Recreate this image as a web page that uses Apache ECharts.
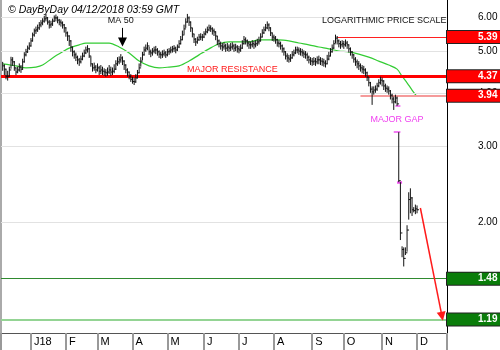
<!DOCTYPE html>
<html><head><meta charset="utf-8">
<script src="https://cdn.jsdelivr.net/npm/echarts@6/dist/echarts.min.js"></script>
<style>html,body{margin:0;padding:0;background:#fff}#c{width:500px;height:350px}</style>
</head><body><div id="c"></div>
<script>
var titleText = '\u00a9 DayByDay 04/12/2018 03:59 GMT';
var holidays = ['2017-12-25','2018-01-01','2018-01-15','2018-02-19','2018-03-30','2018-05-28','2018-07-04','2018-09-03','2018-11-22','2018-12-05','2018-12-25'];
var monthLabels = ['J18','F','M','A','M','J','J','A','S','O','N','D'];
var priceTicks = [6, 5, 4, 3, 2];

var close = [
4.62,4.54,4.37,4.37,4.52,4.77,4.72,4.57,4.47,4.52,
4.59,4.54,4.72,4.90,4.98,5.08,5.14,5.28,5.45,5.57,
5.60,5.66,5.75,5.81,5.87,5.94,5.97,5.84,5.75,5.78,
5.87,5.97,5.97,5.90,5.84,5.81,5.75,5.66,5.51,5.42,
5.28,5.11,4.98,4.90,4.84,4.77,4.72,4.79,4.87,4.95,
5.03,5.06,4.87,4.67,4.57,4.59,4.52,4.57,4.49,4.52,
4.49,4.47,4.45,4.47,4.52,4.47,4.49,4.54,4.67,4.72,
4.77,4.82,4.74,4.64,4.52,4.47,4.37,4.30,4.25,4.24,
4.33,4.45,4.57,4.74,4.90,5.03,5.08,5.14,4.98,4.95,
5.00,5.03,5.03,4.98,4.92,4.90,4.92,4.95,4.90,4.98,
5.00,5.03,5.06,5.08,5.03,5.11,5.20,5.31,5.45,5.63,
5.84,5.97,5.84,5.66,5.48,5.33,5.25,5.31,5.39,5.39,
5.39,5.48,5.54,5.60,5.66,5.63,5.57,5.54,5.42,5.28,
5.20,5.14,5.11,5.14,5.08,5.11,5.08,5.11,5.14,5.08,
5.11,5.06,5.03,5.08,5.20,5.31,5.28,5.22,5.17,5.17,
5.20,5.17,5.20,5.25,5.28,5.39,5.51,5.60,5.66,5.75,
5.66,5.51,5.39,5.36,5.31,5.22,5.20,5.14,5.06,4.98,
4.87,4.82,4.79,4.82,4.90,4.95,5.03,5.03,5.00,4.98,
4.95,4.92,4.90,4.84,4.77,4.74,4.72,4.74,4.72,4.77,
4.77,4.74,4.72,4.69,4.67,4.79,4.87,4.98,5.08,5.20,
5.36,5.28,5.20,5.17,5.20,5.17,5.22,5.17,5.06,4.98,
4.90,4.79,4.72,4.67,4.62,4.57,4.54,4.52,4.45,4.35,
4.22,4.08,4.02,4.06,4.08,4.15,4.22,4.28,4.26,4.15,
4.10,4.08,4.04,3.95,3.87,3.81,3.89,3.77,2.50,1.89,
1.73,1.65,1.70,1.92,2.26,2.28,2.14,2.13,2.15,2.14];
var high = [
4.72,4.66,4.55,4.50,4.60,4.85,4.84,4.74,4.58,4.60,
4.68,4.64,4.80,4.97,5.06,5.15,5.24,5.36,5.52,5.64,
5.70,5.76,5.84,5.90,5.96,6.04,6.10,6.00,5.90,5.88,
5.95,6.05,6.08,6.02,5.94,5.92,5.86,5.78,5.68,5.55,
5.44,5.30,5.12,5.02,4.96,4.88,4.82,4.88,4.96,5.04,
5.12,5.16,5.08,4.86,4.68,4.70,4.64,4.68,4.62,4.64,
4.60,4.56,4.54,4.58,4.64,4.60,4.58,4.66,4.76,4.84,
4.86,4.92,4.86,4.76,4.66,4.56,4.48,4.42,4.36,4.34,
4.42,4.52,4.68,4.84,4.98,5.12,5.18,5.24,5.12,5.04,
5.08,5.12,5.14,5.08,5.02,4.98,5.02,5.04,5.00,5.06,
5.08,5.12,5.14,5.16,5.12,5.18,5.30,5.42,5.58,5.76,
5.96,6.10,6.02,5.86,5.66,5.48,5.36,5.40,5.48,5.50,
5.48,5.56,5.64,5.70,5.76,5.74,5.68,5.64,5.56,5.42,
5.32,5.26,5.22,5.24,5.20,5.22,5.18,5.22,5.24,5.20,
5.20,5.16,5.14,5.18,5.30,5.42,5.38,5.32,5.28,5.26,
5.30,5.28,5.30,5.34,5.40,5.50,5.62,5.70,5.78,5.86,
5.80,5.68,5.52,5.46,5.42,5.34,5.30,5.26,5.18,5.10,
5.00,4.94,4.90,4.92,5.00,5.04,5.12,5.12,5.10,5.08,
5.06,5.02,5.00,4.96,4.88,4.84,4.82,4.84,4.82,4.86,
4.88,4.84,4.82,4.80,4.76,4.90,4.98,5.08,5.18,5.30,
5.46,5.42,5.32,5.28,5.30,5.28,5.32,5.28,5.18,5.10,
5.00,4.92,4.84,4.78,4.74,4.68,4.64,4.62,4.56,4.48,
4.36,4.24,4.14,4.14,4.16,4.22,4.30,4.36,4.34,4.28,
4.20,4.16,4.14,4.06,3.98,3.92,3.96,3.92,3.24,2.48,
1.76,1.75,1.75,1.97,2.35,2.40,2.29,2.17,2.20,2.19];
var low = [
4.50,4.40,4.30,4.27,4.36,4.55,4.62,4.50,4.40,4.44,
4.48,4.45,4.52,4.70,4.86,4.95,5.03,5.12,5.26,5.40,
5.48,5.54,5.60,5.68,5.74,5.82,5.86,5.76,5.64,5.66,
5.72,5.84,5.86,5.80,5.74,5.70,5.64,5.52,5.40,5.28,
5.14,4.98,4.86,4.80,4.74,4.66,4.62,4.68,4.76,4.84,
4.92,4.96,4.82,4.60,4.48,4.50,4.44,4.48,4.40,4.42,
4.40,4.38,4.36,4.38,4.42,4.38,4.40,4.44,4.52,4.62,
4.66,4.70,4.64,4.52,4.44,4.36,4.30,4.24,4.20,4.17,
4.22,4.32,4.44,4.60,4.76,4.88,4.98,5.02,4.90,4.84,
4.88,4.94,4.92,4.88,4.82,4.80,4.82,4.86,4.82,4.86,
4.90,4.94,4.96,4.98,4.94,5.00,5.08,5.18,5.30,5.46,
5.66,5.82,5.72,5.54,5.38,5.22,5.14,5.20,5.28,5.30,
5.28,5.36,5.44,5.50,5.56,5.54,5.46,5.42,5.30,5.16,
5.10,5.04,5.00,5.04,4.98,5.00,4.98,5.00,5.04,4.98,
5.00,4.96,4.94,4.98,5.06,5.18,5.18,5.12,5.06,5.06,
5.10,5.06,5.10,5.14,5.18,5.26,5.38,5.48,5.56,5.62,
5.56,5.42,5.28,5.26,5.20,5.12,5.10,5.04,4.96,4.88,
4.78,4.72,4.70,4.72,4.80,4.86,4.92,4.94,4.90,4.88,
4.86,4.82,4.80,4.74,4.68,4.64,4.62,4.64,4.62,4.66,
4.66,4.64,4.62,4.60,4.58,4.66,4.76,4.86,4.96,5.06,
5.22,5.18,5.10,5.06,5.10,5.06,5.12,5.06,4.96,4.88,
4.80,4.70,4.62,4.56,4.52,4.48,4.44,4.42,4.36,4.26,
4.14,4.00,3.75,3.96,4.00,4.04,4.12,4.18,4.14,4.06,
4.02,4.00,3.96,3.86,3.78,3.65,3.78,3.73,2.48,1.82,
1.66,1.58,1.68,1.71,2.03,2.10,2.07,2.11,2.09,2.10];

var maIdx = [0,8,14,20,24,30,36,40,46,50,58,64,70,76,82,88,94,100,106,112,118,124,130,136,142,148,154,160,166,172,178,184,190,196,202,208,214,220,226,232,237,240,243,246,249];
var maVal = [4.67,4.62,4.57,4.59,4.64,4.82,4.98,5.08,5.17,5.22,5.22,5.22,5.11,4.95,4.74,4.62,4.57,4.59,4.62,4.74,4.90,5.06,5.20,5.25,5.25,5.25,5.31,5.31,5.31,5.28,5.22,5.17,5.11,5.06,5.00,4.98,4.92,4.84,4.74,4.64,4.54,4.37,4.22,4.06,3.92];

var resistance = 4.37;
var level539 = 5.39, level394 = 3.94, level148 = 1.48, level119 = 1.19;
var gapLevels = [3.73, 3.24, 2.48];

// trading-day categories
var cats = [];
(function(){
  var d = new Date(Date.UTC(2017, 11, 5));
  while (cats.length < 269) {
    var dow = d.getUTCDay(); var s = d.toISOString().slice(0, 10);
    if (dow !== 0 && dow !== 6 && holidays.indexOf(s) < 0) cats.push(s);
    d.setUTCDate(d.getUTCDate() + 1);
  }
})();
var off = 1; // first data bar is cats[1]
var tickIdx = {}, labelIdx = {}, m = 0;
for (var k = 1; k < cats.length; k++) {
  if (cats[k].slice(5, 7) !== cats[k - 1].slice(5, 7)) { labelIdx[k] = monthLabels[m++]; tickIdx[k] = true; }
}
tickIdx[0] = true; tickIdx[cats.length - 1] = true;
var lastCat = cats.length - 1;

var ohlc = close.map(function(c, i){ return [i + off, high[i], low[i], c]; });
var ma = maIdx.map(function(i, j){ return [i + off, maVal[j]]; });

var FONT = 'Liberation Sans, Arial, sans-serif';
function box(col){
  return {show: true, position: 'end', distance: 0, color: '#fff', fontWeight: 'bold', fontSize: 10,
    backgroundColor: col, borderColor: '#222', borderWidth: 1, padding: [1, 3, 1, 31], lineHeight: 10,
    formatter: function(p){ return (+p.value).toFixed(2); }};
}

var chart = echarts.init(document.getElementById('c'), null, {renderer: 'canvas'});
chart.setOption({
  animation: false,
  textStyle: {fontFamily: FONT},
  title: {text: titleText, left: 3, top: 0, textStyle: {fontSize: 10.5, fontStyle: 'italic', fontWeight: 'normal', color: '#000', fontFamily: FONT}},
  grid: {left: 1, right: 53, top: 0, bottom: 17, containLabel: false},
  xAxis: {type: 'category', data: cats, boundaryGap: false,
    axisLine: {show: true, lineStyle: {color: '#555', width: 1}},
    axisTick: {show: true, interval: function(i){ return !!tickIdx[i]; }, length: 17, lineStyle: {color: '#999', width: 2}},
    axisLabel: {show: true, interval: function(i){ return !!labelIdx[i]; }, formatter: function(v, i){ return labelIdx[i] || ''; },
      align: 'left', margin: 3, padding: [0, 0, 0, 3], color: '#000', fontSize: 11, fontFamily: FONT},
    splitLine: {show: false}},
  yAxis: [
    {type: 'log', logBase: 10, min: 1.107, max: 6.571, position: 'right',
      axisLine: {show: true, lineStyle: {color: '#000', width: 1}}, axisTick: {show: false}, axisLabel: {show: false}, splitLine: {show: false}},
    {type: 'log', logBase: 10, min: 1.107, max: 6.571, position: 'left',
      axisLine: {show: true, lineStyle: {color: '#aaa', width: 2}}, axisTick: {show: false}, axisLabel: {show: false}, splitLine: {show: false}}
  ],
  series: [
    {type: 'line', name: 'grid', data: [], z: 1, silent: true,
      markLine: {silent: true, symbol: ['none', 'none'], animation: false,
        lineStyle: {color: '#e2e2e2', width: 1, type: 'solid'},
        label: {show: true, position: 'end', distance: 31, color: '#000', fontSize: 10, fontFamily: FONT,
          formatter: function(p){ return (+p.value).toFixed(2); }},
        data: priceTicks.map(function(v){ return {yAxis: v}; })}},
    {type: 'line', name: 'levels', data: [], z: 3, silent: true,
      markLine: {silent: true, symbol: ['none', 'none'], animation: false,
        data: [
          {yAxis: resistance, lineStyle: {color: '#ff0000', width: 3, type: 'solid'}, label: box('#ff0000')},
          {yAxis: level148, lineStyle: {color: '#2f8a2f', width: 1, type: 'solid'}, label: box('#0a7d0a')},
          {yAxis: level119, lineStyle: {color: '#94d494', width: 2, type: 'solid'}, label: box('#0a7d0a')},
          [{coord: [202, level539], value: level539}, {coord: [lastCat, level539], value: level539, lineStyle: {color: '#ff2020', width: 1, type: 'solid'}, label: box('#ff0000')}],
          [{coord: [216, level394], value: level394}, {coord: [lastCat, level394], value: level394, lineStyle: {color: '#f59a9a', width: 2, type: 'solid'}, label: box('#ff0000')}]
        ]}},
    {type: 'line', name: 'MA 50', data: ma, z: 4, smooth: 0.3, showSymbol: false, symbol: 'none',
      lineStyle: {color: '#33cc33', width: 1.2}},
    {type: 'custom', name: 'price', data: ohlc, z: 5, encode: {x: 0, y: [1, 2, 3]},
      renderItem: function(params, api){
        var x = api.value(0);
        var hi = api.coord([x, api.value(1)]);
        var lo = api.coord([x, api.value(2)]);
        var cl = api.coord([x, api.value(3)]);
        var col = '#111';
        return {type: 'group', children: [
          {type: 'line', shape: {x1: hi[0], y1: hi[1], x2: lo[0], y2: lo[1]}, style: {stroke: col, lineWidth: 1}},
          {type: 'line', shape: {x1: cl[0], y1: cl[1], x2: cl[0] + 2, y2: cl[1]}, style: {stroke: col, lineWidth: 1}}
        ]};
      }},
    {type: 'line', name: 'notes', data: [], z: 6, silent: true,
      markLine: {silent: true, animation: false, symbol: ['none', 'none'],
        label: {show: false},
        data: [
          [{coord: [73, 5.66], symbol: 'none'}, {coord: [73, 5.25], symbol: 'triangle', symbolSize: 9, lineStyle: {color: '#000', width: 1, type: 'solid'}}],
          [{coord: [252, 2.16], symbol: 'none'}, {coord: [264.6, 1.21], symbol: 'triangle', symbolSize: 9, lineStyle: {color: '#ff1a1a', width: 1.5, type: 'solid'}}],
          [{coord: [237, gapLevels[0]]}, {coord: [240, gapLevels[0]], lineStyle: {color: '#f050f0', width: 1.5, type: 'solid'}}],
          [{coord: [236, gapLevels[1]]}, {coord: [240, gapLevels[1]], lineStyle: {color: '#f050f0', width: 1.5, type: 'solid'}}],
          [{coord: [238, gapLevels[2]]}, {coord: [241, gapLevels[2]], lineStyle: {color: '#f050f0', width: 2.5, type: 'solid'}}]
        ]},
      markPoint: {silent: true, animation: false, symbol: 'circle', symbolSize: 1, itemStyle: {color: 'rgba(0,0,0,0)'},
        label: {show: true, fontSize: 9, fontFamily: FONT},
        data: [
          {coord: [72, 5.90], label: {position: 'inside', formatter: 'MA 50', color: '#111'}},
          {coord: [139, 4.54], label: {position: 'inside', formatter: 'MAJOR RESISTANCE', color: '#ff1a1a'}},
          {coord: [238, 3.46], label: {position: 'inside', formatter: 'MAJOR GAP', color: '#f040f0'}},
          {coord: [lastCat, 5.90], label: {position: 'left', distance: 0, formatter: 'LOGARITHMIC PRICE SCALE', color: '#111'}}
        ]}}
  ]
});
</script></body></html>
